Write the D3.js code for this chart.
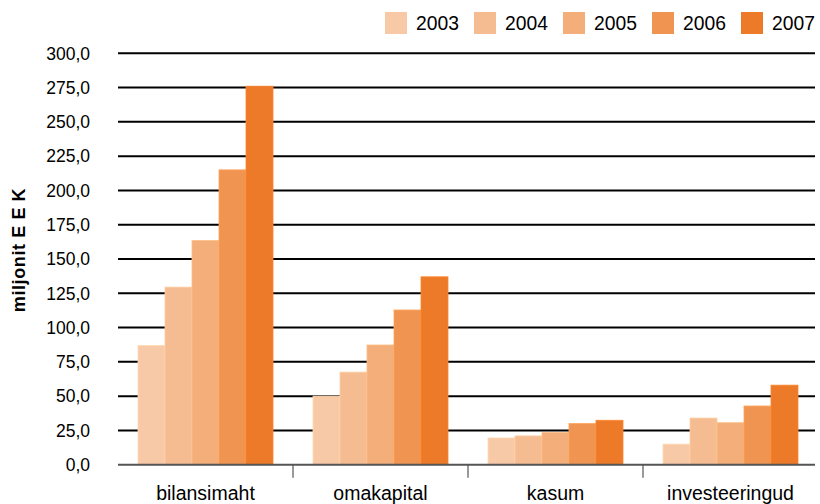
<!DOCTYPE html>
<html><head><meta charset="utf-8">
<script src="https://cdn.jsdelivr.net/npm/d3@7"></script>
<style>
body{margin:0;background:#fff;}
text{font-family:"Liberation Sans",Arial,sans-serif;fill:#000;}
</style></head>
<body><svg id="c" width="820" height="504"></svg>
<script>
const categories = ["bilansimaht","omakapital","kasum","investeeringud"];
const years = ["2003","2004","2005","2006","2007"];
const v2003 = [87, 50, 19.5, 15];
const v2004 = [129.5, 67.5, 21, 34];
const v2005 = [163.5, 87.3, 23.4, 30.6];
const v2006 = [215, 112.8, 30, 42.8];
const v2007 = [276, 137, 32.4, 58];
const series = [v2003, v2004, v2005, v2006, v2007];
const colors = ["#F7C9A7","#F5BC92","#F3AE7A","#F09551","#EC7A28"];
const yTicks = d3.range(0, 301, 25);

const svg = d3.select("#c");
const m = {l:118, r:815, t:53.3, b:464.7};
const x0 = d3.scaleBand().domain(categories).range([m.l, 818]);
const y = d3.scaleLinear().domain([0,300]).range([m.b, m.t]);

// gridlines
svg.append("g").selectAll("line").data(yTicks.filter(d=>d>0)).join("line")
  .attr("x1", m.l).attr("x2", m.r).attr("y1", d=>y(d)).attr("y2", d=>y(d))
  .attr("stroke", "#000").attr("stroke-width", 2);

// y labels
svg.append("g").selectAll("text").data(yTicks).join("text")
  .attr("x", 90).attr("y", d=>y(d)).attr("dy","0.36em")
  .attr("text-anchor","end").attr("font-size", 17.5)
  .text(d=>d3.format(".1f")(d).replace(".",","));

// bars
const inner = 135, pad = 20;
const xb = d3.scaleBand().domain(years).range([pad, pad+inner]);
const g = svg.append("g");
categories.forEach((c,ci)=>{
  years.forEach((yr,yi)=>{
    const v = series[yi][ci];
    g.append("rect")
      .attr("x", x0(c)+xb(yr)).attr("width", xb.bandwidth())
      .attr("y", y(v)).attr("height", y(0)-y(v))
      .attr("fill", colors[yi])
      .attr("stroke", d3.color(colors[yi]).brighter(0.25)).attr("stroke-width", 0.8);
  });
});

// x axis baseline
svg.append("line").attr("x1", m.l).attr("x2", m.r).attr("y1", y(0)).attr("y2", y(0))
  .attr("stroke","#555").attr("stroke-width",2);
// category separators
svg.append("g").selectAll("line").data(categories.slice(1)).join("line")
  .attr("x1", d=>x0(d)).attr("x2", d=>x0(d)).attr("y1", y(0)).attr("y2", y(0)+13)
  .attr("stroke","#555").attr("stroke-width",1.2);
// category labels
svg.append("g").selectAll("text").data(categories).join("text")
  .attr("x", d=>x0(d)+x0.bandwidth()/2).attr("y", 500)
  .attr("text-anchor","middle").attr("font-size", 19.5)
  .text(d=>d);

// y title
svg.append("text").attr("transform","translate(25,250) rotate(-90)")
  .attr("text-anchor","middle").attr("font-size",18).attr("font-weight","bold")
  .attr("font-family","'DejaVu Sans Condensed','DejaVu Sans',sans-serif")
  .attr("letter-spacing", 0.6)
  .text("miljonit E E K");

// legend
const lg = svg.append("g");
years.forEach((yr,i)=>{
  const lx = 385 + i*89;
  lg.append("rect").attr("x", lx).attr("y", 12).attr("width",22).attr("height",22).attr("fill", colors[i]);
  lg.append("text").attr("x", lx+31).attr("y", 23).attr("dy","0.36em").attr("font-size",19.3).text(yr);
});
</script></body></html>
